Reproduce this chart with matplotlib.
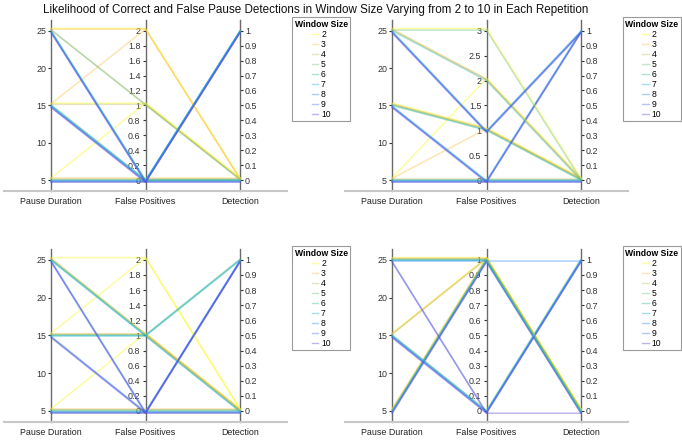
import numpy as np
import matplotlib.pyplot as plt
from matplotlib.lines import Line2D
from matplotlib.ticker import FuncFormatter

plt.rcParams['font.family'] = ['Liberation Sans', 'DejaVu Sans']

window_sizes = [2, 3, 4, 5, 6, 7, 8, 9, 10]
pause_durations = [5, 15, 25]
axis_names = ['Pause Duration', 'False Positives', 'Detection']

# false positives / detection per repetition, one list per pause duration (5, 15, 25),
# each list ordered by window size 2..10
rep1_fp = [[1, 0, 0, 0, 0, 0, 0, 0, 0],
           [1, 2, 1, 0, 0, 0, 0, 0, 0],
           [2, 2, 1, 1, 0, 0, 0, 0, 0]]
rep1_det = [[0, 0, 0, 0, 0, 0, 0, 0, 0],
            [0, 0, 0, 0, 0, 1, 1, 1, 1],
            [0, 0, 0, 0, 1, 1, 1, 1, 1]]

rep2_fp = [[2, 1, 0, 0, 0, 0, 0, 0, 0],
           [1, 1, 1, 1, 1, 0, 0, 0, 0],
           [3, 2, 2, 3, 2, 1, 1, 1, 1]]
rep2_det = [[0, 0, 0, 0, 0, 0, 0, 0, 0],
            [0, 0, 0, 0, 0, 1, 1, 1, 1],
            [0, 0, 0, 0, 0, 1, 1, 1, 1]]

rep3_fp = [[1, 0, 0, 0, 0, 0, 0, 0, 0],
           [2, 1, 1, 1, 1, 1, 0, 0, 0],
           [2, 1, 1, 1, 1, 1, 0, 0, 0]]
rep3_det = [[0, 0, 0, 0, 0, 0, 0, 0, 0],
            [0, 0, 0, 0, 0, 0, 1, 1, 1],
            [0, 0, 0, 1, 1, 1, 1, 1, 1]]

rep4_fp = [[1, 1, 1, 1, 1, 1, 1, 1, 1],
           [1, 1, 1, 0, 0, 0, 0, 0, 0],
           [1, 1, 1, 1, 1, 1, 1, 0, 0]]
rep4_det = [[0, 0, 0, 0, 0, 0, 0, 0, 0],
            [0, 0, 0, 1, 1, 1, 1, 1, 1],
            [0, 0, 0, 0, 0, 0, 1, 1, 0]]

fp_max = [2, 3, 2, 1]
fp_step = [0.2, 0.5, 0.2, 0.1]

# reversed parula, yellow for the smallest window
colors = ['#f9fb15', '#feBe3c', '#c0bc60', '#71bf80', '#32b8a1',
          '#12b1d6', '#2d87f7', '#4a6ff4', '#5a48d0']
jitter = [0.015, 0.011, 0.007, 0.004, 0.0, -0.004, -0.007, -0.011, -0.015]
line_alpha = 0.4

W, H = 682, 443
fig = plt.figure(figsize=(W / 100, H / 100), dpi=100)

panels = [
    (rep1_fp, rep1_det, 4, 20, 191),
    (rep2_fp, rep2_det, 345, 20, 191),
    (rep3_fp, rep3_det, 4, 249, 422),
    (rep4_fp, rep4_det, 345, 249, 422),
]

tick_color = '#333333'
spine_color = '#6a6a6a'


def make_axis(ax, pos, lo, hi, ticks, side):
    fwd = lambda n, lo=lo, hi=hi: lo + n * (hi - lo)
    inv = lambda v, lo=lo, hi=hi: (v - lo) / (hi - lo)
    sec = ax.secondary_yaxis(pos, functions=(fwd, inv))
    sec.set_alignment(side)
    sec.set_yticks(ticks)
    sec.yaxis.set_major_formatter(FuncFormatter(lambda v, p: '%g' % round(v, 3)))
    sec.tick_params(axis='y', labelsize=6.4, length=2.5, width=0.8, pad=1.2,
                    colors=tick_color)
    sec.spines[side].set_color(spine_color)
    sec.spines[side].set_linewidth(1.0)
    return sec


for k, (fp, det, left, top, bottom) in enumerate(panels):
    ax = fig.add_axes([left / W, 1 - bottom / H, 283 / W, (bottom - top) / H])
    ax.set_xlim(-0.5, 2.5)
    ax.set_ylim(-0.073, 1.072)
    for s in ['left', 'right', 'top']:
        ax.spines[s].set_visible(False)
    ax.spines['bottom'].set_color('#c8c8c8')
    ax.spines['bottom'].set_linewidth(1.5)
    ax.set_yticks([])
    ax.set_xticks([0, 1, 2])
    ax.set_xticklabels(axis_names, fontsize=6.4, color='#222222')
    ax.tick_params(axis='x', length=0, pad=4)

    for j, pd_val in enumerate(pause_durations):
        for i, w in enumerate(window_sizes):
            y = np.array([(pd_val - 5) / 20, fp[j][i] / fp_max[k], det[j][i]]) + jitter[i]
            ax.plot([0, 1, 2], y, color=colors[i], alpha=line_alpha, lw=1.1)

    make_axis(ax, 1 / 6, 5, 25, [5, 10, 15, 20, 25], 'left')
    make_axis(ax, 0.5, 0, fp_max[k], np.arange(0, fp_max[k] + 1e-9, fp_step[k]), 'left')
    make_axis(ax, 5 / 6, 0, 1, np.arange(0, 1.0001, 0.1), 'right')

    # right-hand legends are pinned to the figure edge so the box stays inside
    if left < 300:
        anchor, loc = ((left + 288) / W, 1 - (top - 3) / H), 'upper left'
    else:
        anchor, loc = ((W - 1) / W, 1 - (top - 3) / H), 'upper right'
    handles = [Line2D([], [], color=c, alpha=line_alpha, lw=1.0) for c in colors]
    leg = fig.legend(handles, [str(w) for w in window_sizes], title='Window Size',
                     loc=loc, bbox_to_anchor=anchor,
                     borderaxespad=0, fontsize=6.2, title_fontsize=6.2,
                     handlelength=0.8, handletextpad=0.3, labelspacing=0.12,
                     borderpad=0.3, fancybox=False, alignment='center',
                     edgecolor='#9a9a9a', framealpha=1)
    leg.get_title().set_fontweight('bold')
    leg.get_frame().set_linewidth(0.8)

fig.text(316 / W, 1 - 9.5 / H,
         'Likelihood of Correct and False Pause Detections in Window Size Varying from 2 to 10 in Each Repetition',
         ha='center', va='center', fontsize=8.4, color='#111111')

# separator under each legend title
fig.canvas.draw()
inv = fig.transFigure.inverted()
for leg in fig.legends:
    bb = leg.get_window_extent()
    tb = leg.get_title().get_window_extent()
    y = tb.y0 - 1.5
    (x0, y0), (x1, y1) = inv.transform([(bb.x0, y), (bb.x1, y)])
    fig.add_artist(Line2D([x0, x1], [y0, y1], color='#9a9a9a', lw=0.8))

fig.savefig('out.png', dpi=100)
